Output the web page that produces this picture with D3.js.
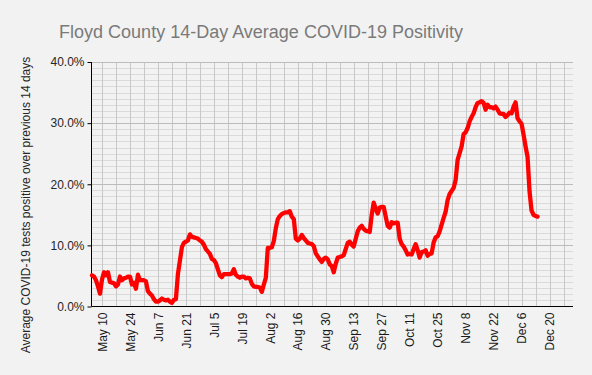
<!DOCTYPE html>
<html><head><meta charset="utf-8">
<script src="https://cdn.jsdelivr.net/npm/d3@7"></script>
<style>
html,body{margin:0;padding:0;background:#f2f2f2;}
svg{display:block;font-family:"Liberation Sans",Arial,sans-serif;}
</style></head>
<body><svg id="chart" width="592" height="375"></svg>
<script>
const title = "Floyd County 14-Day Average COVID-19 Positivity";
const yAxisTitle = "Average COVID-19 tests positive over previous 14 days";
const startDate = "2020-05-05"; // first daily value
const positivity = [
5.1,4.9,4.3,3.3,2.1,4.4,5.6,5.1,5.6,4.0,
3.9,3.8,3.3,3.6,4.9,4.3,4.6,4.7,4.9,4.9,
3.6,3.9,2.9,5.2,4.3,4.3,4.3,4.1,2.5,2.1,
1.8,1.2,0.8,0.8,1.0,1.3,1.1,1.0,1.1,0.8,
0.6,1.1,1.2,5.3,7.5,9.7,10.4,10.6,10.8,11.8,
11.4,11.3,11.2,11.1,10.8,10.6,10.1,9.4,9.0,8.6,
7.8,7.6,7.1,6.1,5.1,4.8,5.3,5.3,5.3,5.3,
5.4,6.1,5.2,4.9,4.7,4.9,4.9,4.6,4.7,4.6,
3.7,3.3,3.2,3.2,3.1,2.4,3.6,4.7,9.6,9.6,
9.7,10.7,12.8,14.3,14.8,15.1,15.3,15.4,15.4,15.6,
14.7,14.3,11.1,10.8,11.1,11.7,11.2,10.8,10.4,10.3,
10.2,9.9,8.7,8.2,7.7,7.3,7.8,8.0,7.7,6.9,
6.6,5.6,7.0,8.0,8.1,8.2,8.4,9.4,10.4,10.6,
10.1,9.8,11.1,12.3,12.9,13.2,12.7,12.4,12.3,12.2,
15.0,17.0,16.0,15.2,16.2,16.3,16.3,14.7,13.2,12.9,
13.8,13.6,13.7,13.7,11.1,10.2,9.8,9.2,8.5,8.6,
8.5,9.4,10.2,9.2,8.0,8.9,9.0,9.2,8.3,8.6,
8.7,10.5,11.3,11.5,12.3,13.4,14.5,15.5,17.4,18.4,
18.9,19.4,20.7,24.0,25.1,26.2,28.2,28.5,29.2,30.3,
31.0,31.6,32.6,33.3,33.4,33.6,33.3,32.2,33.0,32.6,
32.6,32.4,32.7,32.2,31.6,31.5,31.5,31.0,31.3,31.7,
31.6,32.7,33.4,30.8,30.3,29.9,28.1,26.2,24.5,18.8,
15.7,15.0,14.8,14.7
];
const xTickDates = ["2020-05-10","2020-05-24","2020-06-07","2020-06-21","2020-07-05","2020-07-19",
  "2020-08-02","2020-08-16","2020-08-30","2020-09-13","2020-09-27","2020-10-11","2020-10-25",
  "2020-11-08","2020-11-22","2020-12-06","2020-12-20"];
const xDomain = ["2020-05-04T18:00:00Z","2020-12-31T18:00:00Z"];
const yTicks = [0,10,20,30,40];

const parse = d3.utcParse("%Y-%m-%d");
const start = parse(startDate);
const data = positivity.map((v,i)=>({date: d3.utcDay.offset(start,i), value: v}));

const plot = {left:91.5, right:573, top:62, bottom:306.5};
const svg = d3.select("#chart");

const x = d3.scaleUtc().domain(xDomain.map(s=>new Date(s))).range([plot.left, plot.right]);
const y = d3.scaleLinear().domain([0,40]).range([plot.bottom, plot.top]);

// horizontal gridlines (minor 1%, major 10%)
const minorY = d3.range(1,40).filter(v=>v%10!==0);
svg.append("g").selectAll("line").data(minorY).join("line")
  .attr("x1",plot.left).attr("x2",plot.right)
  .attr("y1",d=>Math.round(y(d))+0.5).attr("y2",d=>Math.round(y(d))+0.5)
  .attr("stroke","#dadada").attr("stroke-width",1);

// vertical gridlines weekly
const firstTick = parse(xTickDates[0]);
const weekLines = d3.range(0,34).map(k=>d3.utcDay.offset(firstTick,7*k));
svg.append("g").selectAll("line").data(weekLines).join("line")
  .attr("x1",d=>Math.round(x(d))+0.5).attr("x2",d=>Math.round(x(d))+0.5)
  .attr("y1",plot.top).attr("y2",plot.bottom)
  .attr("stroke","#c8c8c8").attr("stroke-width",1);

svg.append("g").selectAll("line").data(yTicks.filter(v=>v>0)).join("line")
  .attr("x1",plot.left).attr("x2",plot.right)
  .attr("y1",d=>Math.round(y(d))+0.5).attr("y2",d=>Math.round(y(d))+0.5)
  .attr("stroke","#bcbcbc").attr("stroke-width",1);

// y axis
const yAxis = svg.append("g").attr("transform",`translate(${plot.left},0)`)
  .call(d3.axisLeft(y).tickValues(yTicks).tickSize(4).tickPadding(3).tickFormat(d=>d.toFixed(1)+"%"));
yAxis.select(".domain").attr("stroke","#000").attr("d",`M0,${plot.top}V${plot.bottom}`);
yAxis.selectAll(".tick line").attr("stroke","#000");
yAxis.selectAll("text").attr("font-size",12).attr("fill","#262626")
  .attr("font-family","'Liberation Sans',Arial,sans-serif");

// x axis
const xAxis = svg.append("g").attr("transform",`translate(0,${plot.bottom})`)
  .call(d3.axisBottom(x).tickValues(xTickDates.map(parse)).tickSize(0).tickFormat(d3.utcFormat("%b %-d")));
xAxis.select(".domain").attr("stroke","#000").attr("d",`M${plot.left},0H${plot.right}`);
xAxis.selectAll("text")
  .attr("font-size",12).attr("fill","#1a1a1a")
  .attr("font-family","'Liberation Sans',Arial,sans-serif")
  .attr("text-anchor","end")
  .attr("transform","rotate(-90)")
  .attr("x",-6).attr("y",0).attr("dy","0.35em");

// line
const line = d3.line().x(d=>x(d.date)).y(d=>y(d.value));
svg.append("path").datum(data)
  .attr("d",line).attr("fill","none")
  .attr("stroke","#ff0000").attr("stroke-width",4.3)
  .attr("stroke-linejoin","round").attr("stroke-linecap","round");

// title
svg.append("text").attr("x",261).attr("y",38).attr("text-anchor","middle")
  .attr("font-size",18).attr("fill","#7a7a7a").text(title);

// y axis title
svg.append("text").attr("transform","translate(29.5,205) rotate(-90)")
  .attr("text-anchor","middle").attr("font-size",12).attr("fill","#262626")
  .text(yAxisTitle);
</script>
</body></html>
